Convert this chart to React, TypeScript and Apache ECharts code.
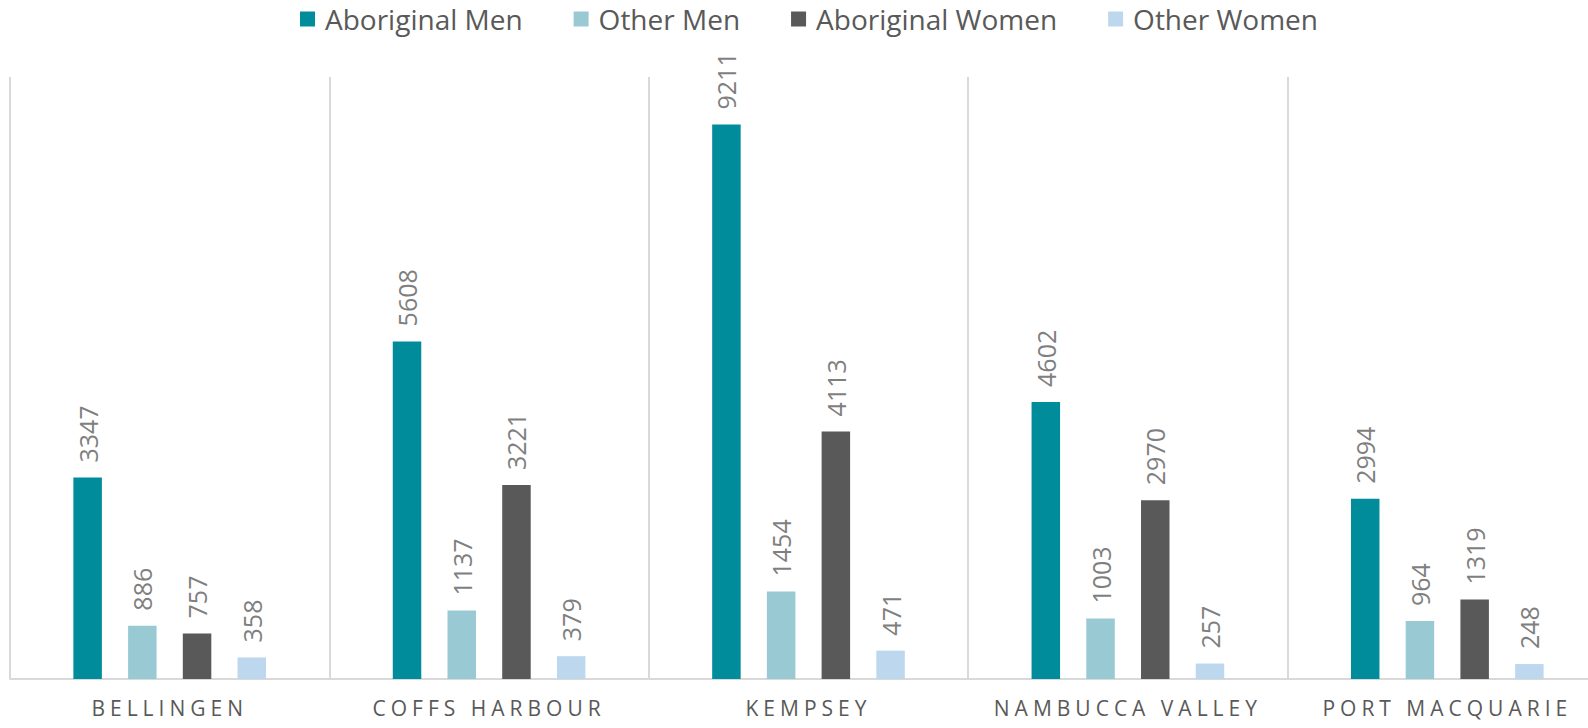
import React, { useEffect, useRef } from "react";
import * as echarts from "echarts";

const categories = ["BELLINGEN", "COFFS HARBOUR", "KEMPSEY", "NAMBUCCA VALLEY", "PORT MACQUARIE"];
const seriesNames = ["Aboriginal Men", "Other Men", "Aboriginal Women", "Other Women"];
const aboriginalMen = [3347, 5608, 9211, 4602, 2994];
const otherMen = [886, 1137, 1454, 1003, 964];
const aboriginalWomen = [757, 3221, 4113, 2970, 1319];
const otherWomen = [358, 379, 471, 257, 248];
const colors = ["#008C9A", "#99CAD3", "#595959", "#BDD7EE"];

export default function App() {
  const ref = useRef<HTMLDivElement>(null);
  useEffect(() => {
    if (!ref.current) return;
    const chart = echarts.init(ref.current, null, { renderer: "svg" });
    const values = [aboriginalMen, otherMen, aboriginalWomen, otherWomen];
    chart.setOption({
      animation: false,
      color: colors,
      legend: {
        top: 5,
        left: 300,
        padding: 0,
        itemWidth: 15,
        itemHeight: 15,
        itemGap: 51,
        icon: "rect",
        textStyle: { fontFamily: "Open Sans", fontSize: 28, color: "#595959", padding: [0, 0, 0, 5] },
        data: seriesNames,
      },
      grid: { left: 10, width: 1597, top: 77, bottom: 49, containLabel: false, outerBoundsMode: "none" },
      xAxis: {
        type: "category",
        data: categories,
        axisLine: { lineStyle: { color: "#D9D9D9", width: 2 } },
        axisTick: { show: false },
        splitLine: { show: true, lineStyle: { color: "#D9D9D9", width: 2 } },
        axisLabel: { fontFamily: "Open Sans", fontSize: 21, color: "#595959", margin: 18 },
      },
      yAxis: {
        type: "value",
        min: 0,
        max: 10000,
        show: false,
        splitLine: { show: false },
      },
      series: values.map((d, i) => ({
        name: seriesNames[i],
        type: "bar",
        data: d,
        barWidth: 28.5,
        barGap: "92%",
        barCategoryGap: "39.7%",
        label: {
          show: true,
          position: "top",
          rotate: 90,
          align: "left",
          verticalAlign: "middle",
          distance: 15,
          fontFamily: "Open Sans",
          fontSize: 25,
          color: "#7F7F7F",
        },
      })),
    });
    return () => chart.dispose();
  }, []);
  return (
    <div>
      <style>{`#chartbox text[style*="21px"] { letter-spacing: 5px; }`}</style>
      <div id="chartbox" ref={ref} style={{ width: 1588, height: 728, position: "absolute", left: 0, top: 0, overflow: "hidden" }} />
    </div>
  );
}
